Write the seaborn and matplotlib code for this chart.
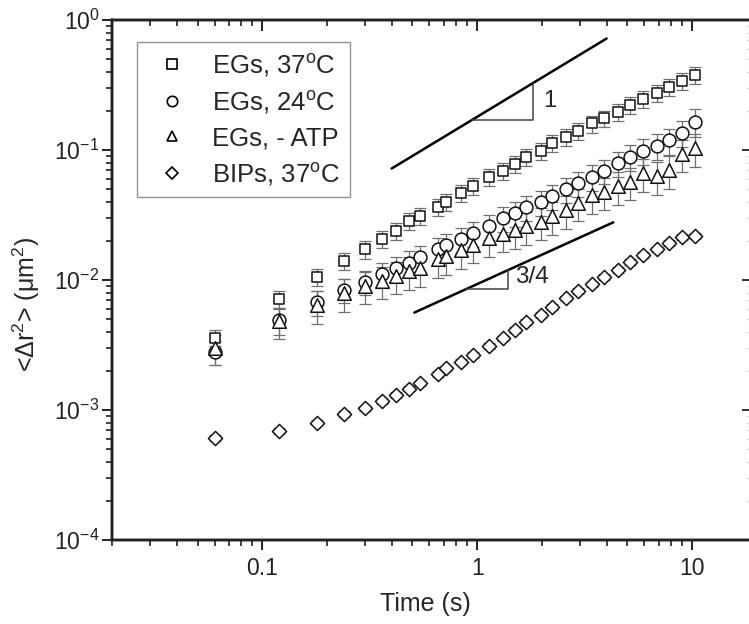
import numpy as np
import pandas as pd
import matplotlib
matplotlib.use("Agg")
import matplotlib.pyplot as plt
from matplotlib.lines import Line2D
from matplotlib.collections import PathCollection
import seaborn as sns

# Lag times (s)
time_s = [0.06, 0.12, 0.18, 0.24, 0.30, 0.36, 0.42, 0.48, 0.54, 0.66,
          0.72, 0.84, 0.96, 1.14, 1.32, 1.50, 1.68, 1.98, 2.22, 2.58,
          2.94, 3.42, 3.90, 4.50, 5.16, 5.94, 6.84, 7.80, 9.00, 10.32]

# Mean squared displacement (um^2) and error bars for each condition
eg37_msd = [0.0036, 0.0072, 0.0106, 0.0141, 0.0172, 0.0207, 0.0239, 0.0285, 0.0311, 0.0366,
            0.0400, 0.0465, 0.0531, 0.0616, 0.0693, 0.0780, 0.0888, 0.0988, 0.113, 0.127,
            0.141, 0.160, 0.175, 0.197, 0.222, 0.247, 0.276, 0.304, 0.340, 0.377]
eg37_err = [0.0005, 0.0011, 0.0016, 0.0021, 0.0026, 0.0031, 0.0036, 0.0043, 0.0047, 0.0055,
            0.0060, 0.0070, 0.0080, 0.0092, 0.0104, 0.0117, 0.0133, 0.0148, 0.017, 0.019,
            0.021, 0.024, 0.026, 0.030, 0.033, 0.037, 0.041, 0.046, 0.051, 0.057]

eg24_msd = [0.0028, 0.0049, 0.0068, 0.0084, 0.0097, 0.0111, 0.0123, 0.0136, 0.0149, 0.0172,
            0.0186, 0.0206, 0.0229, 0.0260, 0.0298, 0.0326, 0.0362, 0.0400, 0.0443, 0.0501,
            0.0554, 0.0624, 0.0693, 0.0791, 0.0889, 0.0988, 0.108, 0.119, 0.136, 0.165]
eg24_err = [0.0006, 0.0011, 0.0015, 0.0018, 0.0021, 0.0024, 0.0027, 0.0030, 0.0033, 0.0038,
            0.0041, 0.0045, 0.0050, 0.0057, 0.0066, 0.0072, 0.0080, 0.0088, 0.0097, 0.011,
            0.012, 0.014, 0.015, 0.017, 0.020, 0.022, 0.024, 0.027, 0.031, 0.040]

egatp_msd = [0.0030, 0.0048, 0.0064, 0.0079, 0.0090, 0.0098, 0.0108, 0.0117, 0.0124, 0.0144,
             0.0153, 0.0170, 0.0186, 0.0209, 0.0226, 0.0242, 0.0260, 0.0281, 0.0310, 0.0345,
             0.0394, 0.0451, 0.0478, 0.0528, 0.0570, 0.0669, 0.0631, 0.0702, 0.0932, 0.103]
egatp_err = [0.0008, 0.0013, 0.0018, 0.0022, 0.0025, 0.0027, 0.0030, 0.0033, 0.0035, 0.0040,
             0.0043, 0.0048, 0.0052, 0.0059, 0.0063, 0.0068, 0.0073, 0.0079, 0.0087, 0.0097,
             0.011, 0.013, 0.013, 0.015, 0.016, 0.019, 0.018, 0.020, 0.026, 0.029]

bip37_msd = [0.00061, 0.00069, 0.00080, 0.00093, 0.00103, 0.00118, 0.00130, 0.00146, 0.00160, 0.00189,
             0.00209, 0.00236, 0.00265, 0.00311, 0.00356, 0.00412, 0.00478, 0.00538, 0.00624, 0.00723,
             0.00827, 0.00927, 0.0106, 0.0119, 0.0138, 0.0156, 0.0172, 0.0194, 0.0215, 0.0218]
bip37_err = [0.00003, 0.00004, 0.00004, 0.00005, 0.00005, 0.00006, 0.00007, 0.00007, 0.00008, 0.00009,
             0.0001, 0.00012, 0.00013, 0.00016, 0.00018, 0.00021, 0.00024, 0.00027, 0.00031, 0.00036,
             0.00041, 0.00046, 0.00053, 0.0006, 0.0007, 0.0008, 0.0009, 0.0010, 0.0011, 0.0012]

series_labels = ["EGs, 37$^\\mathrm{o}$C", "EGs, 24$^\\mathrm{o}$C",
                 "EGs, - ATP", "BIPs, 37$^\\mathrm{o}$C"]

# Guide-line power laws: slope 1 and slope 3/4
slope1_x = [0.4, 4.0]
slope1_coef = 0.18
slope34_x = [0.51, 4.3]
slope34_coef = 0.0093

sns.set_style("ticks")
plt.rcParams["font.family"] = ["Liberation Sans", "DejaVu Sans"]
plt.rcParams["mathtext.fontset"] = "custom"
plt.rcParams["mathtext.rm"] = "Liberation Sans"
plt.rcParams["mathtext.it"] = "Liberation Sans:italic"
plt.rcParams["mathtext.bf"] = "Liberation Sans:bold"
plt.rcParams["axes.unicode_minus"] = False

W, H = 749, 624
fig = plt.figure(figsize=(W / 100, H / 100), dpi=100)
left_px, right_px, top_px, bottom_px = 112, 752, 20, 540
ax = fig.add_axes([left_px / W, 1 - bottom_px / H,
                   (right_px - left_px) / W, (bottom_px - top_px) / H])

xlim = (0.02, 19.0)
ylim = (1e-4, 1.0)

df = pd.DataFrame({
    "time": time_s * 4,
    "msd": eg37_msd + eg24_msd + egatp_msd + bip37_msd,
    "err": eg37_err + eg24_err + egatp_err + bip37_err,
    "series": sum([[lab] * len(time_s) for lab in series_labels], []),
})

markers = {series_labels[0]: "s", series_labels[1]: "o",
           series_labels[2]: "^", series_labels[3]: "D"}
sizes = {series_labels[0]: 62, series_labels[1]: 85,
         series_labels[2]: 95, series_labels[3]: 52}

for lab in series_labels:
    sub = df[df["series"] == lab]
    ax.errorbar(sub["time"], sub["msd"], yerr=sub["err"], fmt="none",
                ecolor="#707070", elinewidth=0.9, capsize=4, capthick=0.9, zorder=2)
    sns.scatterplot(data=sub, x="time", y="msd", marker=markers[lab],
                    s=sizes[lab], color="black", linewidth=1.1, ax=ax,
                    legend=False, zorder=3)
for coll in ax.collections:
    if isinstance(coll, PathCollection):
        coll.set_facecolor("white")
        coll.set_edgecolor("#111111")

ax.set_xscale("log")
ax.set_yscale("log")
ax.set_xlim(*xlim)
ax.set_ylim(*ylim)

# Slope guide lines with triangles
sx = np.array(slope1_x)
ax.plot(sx, slope1_coef * sx, color="black", lw=1.8, zorder=4)
tx = np.array([0.95, 1.82, 1.82])
ty = np.array([slope1_coef * 0.95, slope1_coef * 0.95, slope1_coef * 1.82])
ax.plot(tx, ty, color="#444444", lw=1.1, zorder=4)
ax.text(2.02, 0.24, "1", fontsize=17, ha="left", va="center")

sx = np.array(slope34_x)
ax.plot(sx, slope34_coef * sx ** 0.75, color="black", lw=1.8, zorder=4)
tx = np.array([0.89, 1.39, 1.39])
ty = np.array([slope34_coef * 0.89 ** 0.75, slope34_coef * 0.89 ** 0.75,
               slope34_coef * 1.39 ** 0.75])
ax.plot(tx, ty, color="#444444", lw=1.1, zorder=4)
ax.text(1.5, 0.0105, "3/4", fontsize=17.5, ha="left", va="center")

# Axes styling: outward ticks on bottom/left, inward on top/right
for sp in ax.spines.values():
    sp.set_linewidth(1.7)
    sp.set_color("#222222")
ax.tick_params(which="major", direction="out", length=7, width=1.4,
               labelsize=16.5, colors="#222222", pad=2)
ax.tick_params(axis="x", which="major", pad=5)
ax.tick_params(which="minor", direction="out", length=4, width=1.2, colors="#222222")
ax.set_xticks([0.1, 1, 10])
ax.set_xticklabels(["0.1", "1", "10"])
ax.set_yticks([1e-4, 1e-3, 1e-2, 1e-1, 1])
ax.set_yticklabels(["$10^{-4}$", "$10^{-3}$", "$10^{-2}$", "$10^{-1}$", "$10^{0}$"])

axt = ax.twiny()
axt.set_xscale("log")
axt.set_xlim(*xlim)
axt.tick_params(axis="x", which="major", direction="in", length=8, width=1.4,
                labeltop=False, top=True, colors="#222222")
axt.tick_params(axis="x", which="minor", direction="in", length=4, width=1.2, colors="#222222")
axr = ax.twinx()
axr.set_yscale("log")
axr.set_ylim(*ylim)
axr.tick_params(axis="y", which="major", direction="in", length=7, width=1.3,
                labelright=False, right=True, colors="#222222")
axr.tick_params(axis="y", which="minor", direction="in", length=4, width=1.0, colors="#dddddd")
for a in (axt, axr):
    for sp in a.spines.values():
        sp.set_linewidth(1.7)
        sp.set_color("#222222")

ax.set_xlabel("Time (s)", fontsize=18)
ax.xaxis.set_label_coords((425 - left_px) / (right_px - left_px), -52 / 520)
ax.set_ylabel("<Δr$^2$> (μm$^2$)", fontsize=18)
ax.yaxis.set_label_coords(-70 / 640, (540 - 305) / 520)

handles = [Line2D([], [], ls="none", marker=markers[lab],
                  markersize=7.5 if markers[lab] != "D" else 6.5,
                  markerfacecolor="none", markeredgecolor="black", markeredgewidth=1.2)
           for lab in series_labels]
leg = ax.legend(handles, series_labels, loc="upper left",
                bbox_to_anchor=(25 / 640, 1 - 22 / 520), borderaxespad=0,
                fontsize=18.5, frameon=True, fancybox=False, handlelength=2.0,
                handletextpad=0.55, labelspacing=0.4, borderpad=0.38)
leg.get_frame().set_edgecolor("#777777")
leg.get_frame().set_linewidth(1.0)
leg.set_zorder(10)

fig.savefig("out.png", dpi=100)
